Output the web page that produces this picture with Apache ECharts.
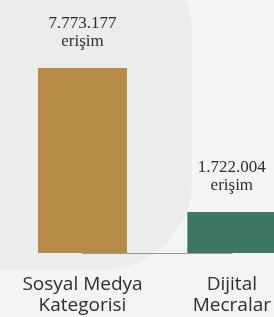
<!DOCTYPE html>
<html>
<head>
<meta charset="utf-8">
<script src="https://cdn.jsdelivr.net/npm/echarts@6/dist/echarts.min.js"></script>
<style>html,body{margin:0;padding:0;background:#f4f4f4;}#c{width:274px;height:317px;}</style>
</head>
<body>
<div id="c"></div>
<script>
const categories = ['Sosyal Medya\nKategorisi', 'Dijital\nMecralar'];
const reach = [7773177, 1722004];
const reachLabels = ['7.773.177', '1.722.004'];
const unitLabel = 'erişim';
const barColors = ['#b68b46', '#3e7666'];

const chart = echarts.init(document.getElementById('c'), null, {renderer: 'canvas'});
chart.setOption({
  backgroundColor: '#f4f4f4',
  animation: false,
  graphic: [{
    type: 'rect', z: -10, silent: true,
    shape: {x: -80, y: -60, width: 272, height: 330, r: 90},
    style: {fill: '#ececec'}
  }],
  grid: {left: 82.5, right: 35, top: 68, bottom: 64, containLabel: false},
  xAxis: {
    type: 'category',
    data: categories,
    boundaryGap: false,
    axisTick: {show: false},
    axisLine: {lineStyle: {color: '#9a9a9a', width: 1}},
    axisLabel: {
      margin: 21, color: '#2e2e2e', fontSize: 19, lineHeight: 21,
      fontFamily: 'Open Sans', interval: 0
    }
  },
  yAxis: {type: 'value', min: 0, max: 'dataMax', show: false, splitLine: {show: false}},
  series: [{
    type: 'bar',
    barWidth: 89,
    data: reach.map((v, i) => ({value: v, itemStyle: {color: barColors[i]}})),
    label: {
      show: true, position: 'top', distance: 17,
      color: '#2e2e2e', fontSize: 17, lineHeight: 18,
      fontFamily: 'Liberation Serif',
      formatter: p => reachLabels[p.dataIndex] + '\n' + unitLabel
    }
  }]
});
</script>
</body>
</html>
